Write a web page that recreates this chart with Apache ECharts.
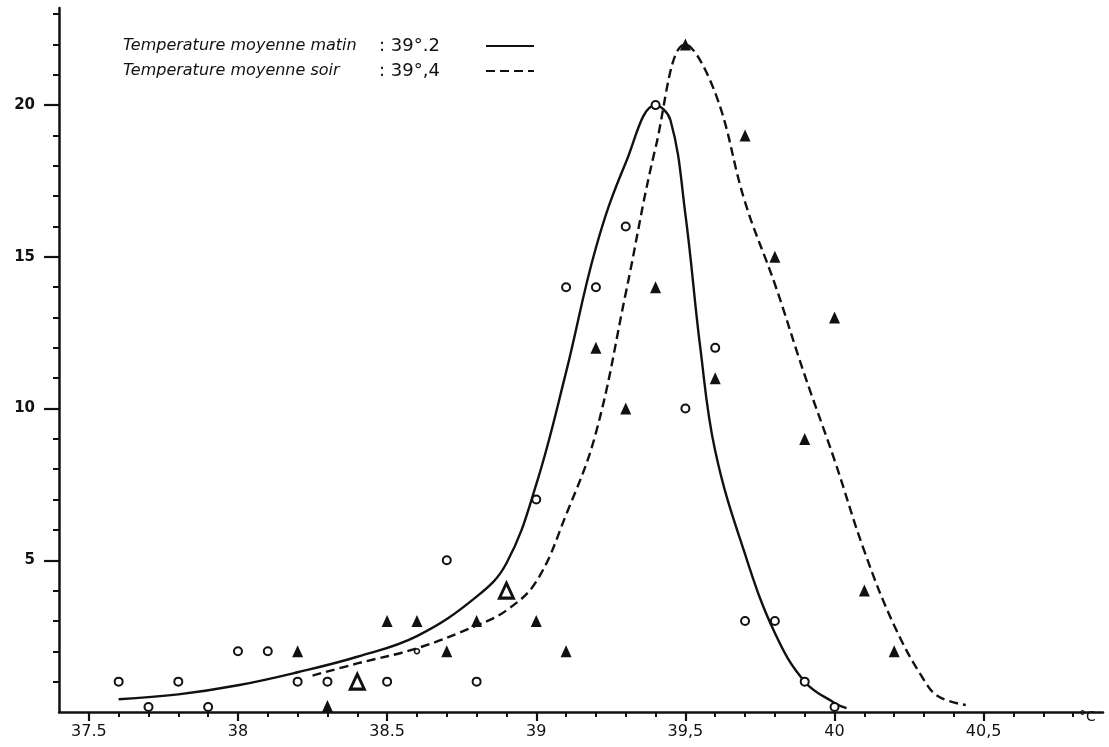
<!DOCTYPE html>
<html>
<head>
<meta charset="utf-8">
<style>
  html, body { margin: 0; padding: 0; background: #ffffff; }
  #chart { width: 1109px; height: 747px; }
</style>
<script src="https://cdn.jsdelivr.net/npm/echarts@6/dist/echarts.min.js"></script>
</head>
<body>
<div id="chart"></div>
<script>
// Temperature distribution: morning (solid) and evening (dashed) curves
// with the observed counts per 0.1 °C.

// Smoothed morning curve (temperature, count)
const matinCurveT = [37.6, 37.8, 38.0, 38.2, 38.4, 38.6, 38.8, 38.9, 39.0, 39.1, 39.2, 39.3, 39.4, 39.45, 39.5, 39.55, 39.6, 39.7, 39.8, 39.9, 40.0, 40.04];
const matinCurveN = [0.42, 0.58, 0.88, 1.31, 1.82, 2.5, 3.8, 4.9, 7.5, 11.2, 15.3, 18.1, 20.0, 19.5, 16.4, 12.0, 8.6, 5.2, 2.6, 1.0, 0.3, 0.13];

// Smoothed evening curve (temperature, count)
const soirCurveT = [38.25, 38.4, 38.6, 38.8, 38.9, 39.0, 39.1, 39.2, 39.3, 39.4, 39.5, 39.6, 39.7, 39.8, 39.9, 40.0, 40.1, 40.2, 40.3, 40.35, 40.44];
const soirCurveN = [1.2, 1.6, 2.1, 2.85, 3.35, 4.3, 6.5, 9.2, 13.8, 18.6, 22.0, 20.4, 16.8, 14.1, 11.1, 8.3, 5.3, 2.85, 1.05, 0.5, 0.23];

// Morning observations (open circles)
const matinT = [37.6, 37.7, 37.8, 37.9, 38.0, 38.1, 38.2, 38.3, 38.5, 38.7, 38.8, 39.0, 39.1, 39.2, 39.3, 39.4, 39.5, 39.6, 39.7, 39.8, 39.9, 40.0];
const matinN = [1, 0, 1, 0, 2, 2, 1, 1, 1, 5, 1, 7, 14, 14, 16, 20, 10, 12, 3, 3, 1, 0];
// small circle lying on the evening curve
const matinSmallT = [38.6];
const matinSmallN = [2];

// Evening observations (filled triangles)
const soirT = [38.2, 38.3, 38.5, 38.6, 38.7, 38.8, 39.0, 39.1, 39.2, 39.3, 39.4, 39.5, 39.6, 39.7, 39.8, 39.9, 40.0, 40.1, 40.2];
const soirN = [2, 0, 3, 3, 2, 3, 3, 2, 12, 10, 14, 22, 11, 19, 15, 9, 13, 4, 2];
// evening observations drawn as open triangles
const soirOpenT = [38.4, 38.9];
const soirOpenN = [1, 4];

// Axis ticks and labels
const xMajorTicks = [37.5, 38, 38.5, 39, 39.5, 40, 40.5];
const xTickLabels = ['37.5', '38', '38.5', '39', '39,5', '40', '40,5'];
const yMajorTicks = [5, 10, 15, 20];
const yTickLabels = ['5', '10', '15', '20'];

// Legend text
const seriesNames = ['Temperature moyenne matin', 'Temperature moyenne soir'];
const legendValues = [': 39°.2', ': 39°,4'];

const INK = '#111111';
const X_MIN = 37.4, X_MAX = 40.9, Y_MIN = 0, Y_MAX = 23.2;

// minor tick positions: every 0.1 °C / every unit, skipping the major ones
const xMinorTicks = [];
for (let i = 375; i <= 408; i++) { if (i % 5 !== 0) xMinorTicks.push(i / 10); }
const yMinorTicks = [];
for (let i = 1; i <= 23; i++) { if (i % 5 !== 0) yMinorTicks.push(i); }

const zip = (a, b) => a.map((v, i) => [v, b[i]]);
// points with a zero count sit on the axis line
const pointItems = (a, b, lift) => a.map((v, i) => ({
  value: [v, b[i]],
  symbolOffset: b[i] === 0 ? [0, -lift] : [0, 0]
}));

function labelFor(list, labels, v) {
  let best = -1, d = 1e9;
  list.forEach((t, i) => { const dd = Math.abs(t - v); if (dd < d) { d = dd; best = i; } });
  return d < 1e-6 ? labels[best] : '';
}

const chart = echarts.init(document.getElementById('chart'), null, { renderer: 'canvas' });

const baseX = { type: 'value', min: X_MIN, max: X_MAX, position: 'bottom', splitLine: { show: false } };
const baseY = { type: 'value', min: Y_MIN, max: Y_MAX, position: 'left', splitLine: { show: false } };

chart.setOption({
  backgroundColor: '#ffffff',
  animation: false,
  grid: { left: 59, right: 6, top: 8, bottom: 35 },
  xAxis: [
    Object.assign({}, baseX, {
      axisLine: { show: true, lineStyle: { color: INK, width: 2.5 } },
      axisTick: { show: true, customValues: xMinorTicks, length: 5, lineStyle: { color: INK, width: 2 } },
      axisLabel: { show: false }
    }),
    Object.assign({}, baseX, {
      axisLine: { show: false },
      axisTick: { show: true, customValues: xMajorTicks, length: 9, lineStyle: { color: INK, width: 2.2 } },
      axisLabel: {
        show: true, customValues: xMajorTicks, margin: 12,
        color: INK, fontSize: 16, fontFamily: 'DejaVu Sans',
        formatter: v => labelFor(xMajorTicks, xTickLabels, v)
      }
    })
  ],
  yAxis: [
    Object.assign({}, baseY, {
      axisLine: { show: true, lineStyle: { color: INK, width: 2.5 } },
      axisTick: { show: true, customValues: yMinorTicks, length: 6, lineStyle: { color: INK, width: 2 } },
      axisLabel: { show: false }
    }),
    Object.assign({}, baseY, {
      axisLine: { show: false },
      axisTick: { show: true, customValues: yMajorTicks, length: 15, lineStyle: { color: INK, width: 2.2 } },
      axisLabel: {
        show: true, customValues: yMajorTicks, margin: 24,
        color: INK, fontSize: 15, fontWeight: 'bold', fontFamily: 'DejaVu Sans',
        formatter: v => labelFor(yMajorTicks, yTickLabels, v)
      }
    })
  ],
  legend: {
    orient: 'vertical',
    left: 118,
    top: 32,
    align: 'right',
    itemWidth: 48,
    itemHeight: 14,
    itemGap: 7,
    itemStyle: { opacity: 0 },
    data: seriesNames,
    formatter: name => '{a|' + name + '}{b|' + legendValues[seriesNames.indexOf(name)] + '}',
    textStyle: {
      color: INK,
      rich: {
        a: { width: 256, align: 'left', fontSize: 16, fontStyle: 'italic', fontFamily: 'DejaVu Sans', color: INK },
        b: { width: 102, align: 'left', fontSize: 18, fontFamily: 'DejaVu Sans', color: INK }
      }
    }
  },
  graphic: [
    { type: 'text', left: 1079, top: 710, style: { text: '°C', fill: INK, font: '14px "DejaVu Sans"' } }
  ],
  series: [
    {
      name: seriesNames[0], type: 'line', data: zip(matinCurveT, matinCurveN),
      symbol: 'none', smooth: 0.4, z: 2,
      lineStyle: { color: INK, width: 2.4, type: 'solid' }, itemStyle: { color: INK }
    },
    {
      name: seriesNames[1], type: 'line', data: zip(soirCurveT, soirCurveN),
      symbol: 'none', smooth: 0.4, z: 2,
      lineStyle: { color: INK, width: 2.4, type: [9, 5] }, itemStyle: { color: INK }
    },
    {
      name: 'matin-points', type: 'scatter', data: pointItems(matinT, matinN, 5),
      symbol: 'circle', symbolSize: 8, clip: false, z: 4,
      itemStyle: { color: '#ffffff', borderColor: INK, borderWidth: 2, opacity: 1 }
    },
    {
      name: 'matin-small', type: 'scatter', data: zip(matinSmallT, matinSmallN),
      symbol: 'circle', symbolSize: 5, clip: false, z: 4,
      itemStyle: { color: '#ffffff', borderColor: INK, borderWidth: 1.5, opacity: 1 }
    },
    {
      name: 'soir-points', type: 'scatter', data: pointItems(soirT, soirN, 6),
      symbol: 'triangle', symbolSize: [11, 12], clip: false, z: 4,
      itemStyle: { color: INK, opacity: 1 }
    },
    {
      name: 'soir-open', type: 'scatter', data: zip(soirOpenT, soirOpenN),
      symbol: 'triangle', symbolSize: [14, 15], clip: false, z: 4,
      itemStyle: { color: '#ffffff', borderColor: INK, borderWidth: 3, opacity: 1 }
    }
  ]
});
</script>
</body>
</html>
